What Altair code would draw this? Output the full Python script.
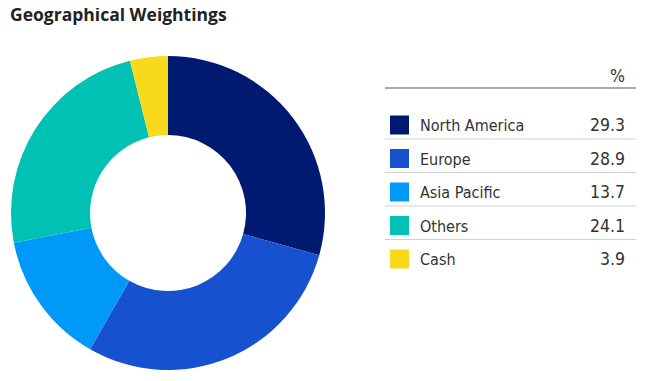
import altair as alt
import pandas as pd

title_text = "Geographical Weightings"
header_text = "%"
categories = ["North America", "Europe", "Asia Pacific", "Others", "Cash"]
values = [29.3, 28.9, 13.7, 24.1, 3.9]
colors = ["#001a72", "#1652d0", "#0099f8", "#00c1b4", "#f8da1a"]

df = pd.DataFrame({"category": categories, "value": values,
                   "rank": list(range(len(categories)))})

TOP = 8
W, H = 649, 365 - TOP
NARROW = "Liberation Sans Narrow, DejaVu Sans Condensed, sans-serif"


def py(page_y):
    # convert a page y position to a plot-area y position
    return page_y - 8 - TOP


color = alt.Color("category:N", scale=alt.Scale(domain=categories, range=colors), legend=None)
rowY = alt.Y("rank:Q", scale=alt.Scale(domain=[0, len(categories) - 1],
                                       range=[py(125), py(259)]), axis=None)

base = alt.Chart(df)

arc = base.mark_arc(radius=157, radius2=78).encode(
    theta=alt.Theta("value:Q", stack=True),
    order=alt.Order("rank:Q"),
    color=color,
    x=alt.value(160), y=alt.value(py(213)),
)

swatch = base.mark_square(size=361, opacity=1, strokeWidth=0).encode(
    x=alt.value(391.5), y=rowY, color=color)

labels = base.mark_text(align="left", baseline="middle", font=NARROW, fontSize=16,
                        color="#333333", dy=1).encode(x=alt.value(412), y=rowY, text="category:N")

vals = base.mark_text(align="right", baseline="middle", font=NARROW, fontSize=17.5,
                      color="#333333", dy=1).encode(x=alt.value(617), y=rowY,
                                                    text=alt.Text("value:Q", format=".1f"))

seps = base.transform_filter(alt.datum.rank < 4).mark_rule(
    color="#d0d0d0", strokeWidth=1, yOffset=14).encode(
    x=alt.value(377), x2=alt.value(628), y=rowY)

hdr_df = pd.DataFrame({"h": [header_text]})
top_rule = alt.Chart(hdr_df).mark_rule(color="#555555", strokeWidth=1).encode(
    x=alt.value(377), x2=alt.value(628), y=alt.value(py(88)))
hdr = alt.Chart(hdr_df).mark_text(align="right", baseline="middle", font=NARROW, fontSize=17.5,
                                  color="#333333").encode(x=alt.value(617), y=alt.value(py(77)), text="h:N")

title_df = pd.DataFrame({"t": [title_text]})
title = alt.Chart(title_df).mark_text(align="left", baseline="alphabetic", font="Open Sans",
                                      fontWeight="bold", fontSize=17.5, color="#222222").encode(
    x=alt.value(2), y=alt.value(py(21)), text="t:N")

chart = alt.layer(arc, seps, top_rule, swatch, labels, vals, hdr, title).properties(
    width=W, height=H, autosize="none",
    padding={"left": 0, "top": TOP, "right": 0, "bottom": 0}
).configure_view(stroke=None)

chart.save("out.html", embed_options={"renderer": "svg", "actions": False})
